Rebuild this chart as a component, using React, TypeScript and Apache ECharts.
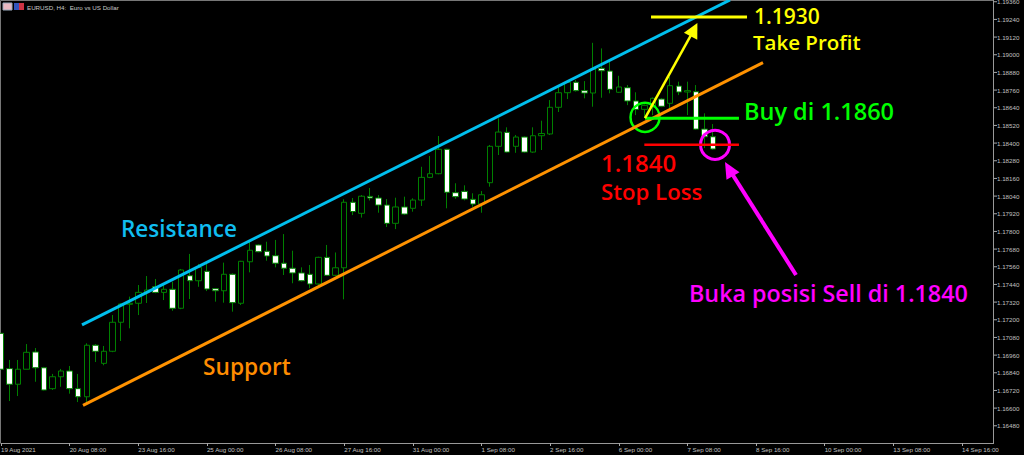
import React, { useEffect, useRef } from "react";
import * as echarts from "echarts";

const xTickLabels = ["19 Aug 2021", "20 Aug 08:00", "23 Aug 16:00", "25 Aug 00:00", "26 Aug 08:00", "27 Aug 16:00", "31 Aug 00:00", "1 Sep 08:00", "2 Sep 16:00", "6 Sep 00:00", "7 Sep 08:00", "8 Sep 16:00", "10 Sep 00:00", "13 Sep 08:00", "14 Sep 16:00"];
const yTicks = [1.1936, 1.1924, 1.1912, 1.19, 1.1888, 1.1876, 1.1864, 1.1852, 1.184, 1.1828, 1.1816, 1.1804, 1.1792, 1.178, 1.1768, 1.1756, 1.1744, 1.1732, 1.172, 1.1708, 1.1696, 1.1684, 1.1672, 1.166, 1.1648];

const opens = [
  1.17108, 1.16868, 1.16762, 1.16864, 1.16981, 1.16874, 1.16732, 1.16813, 1.16852, 1.16732,
  1.16677, 1.17027, 1.16904, 1.16986, 1.17183, 1.17305, 1.17312, 1.17388, 1.17424, 1.17386,
  1.17407, 1.17278, 1.17499, 1.17465, 1.17529, 1.17411, 1.17397, 1.17509, 1.17312, 1.17594,
  1.17708, 1.17665, 1.17635, 1.17584, 1.1755, 1.17518, 1.17509, 1.17443, 1.17624, 1.17502,
  1.17553, 1.17998, 1.17923, 1.18038, 1.18027, 1.17979, 1.17855, 1.17966, 1.17957, 1.18013,
  1.18167, 1.18192, 1.18358, 1.18063, 1.18072, 1.18018, 1.17986, 1.18131, 1.18378, 1.18473,
  1.18378, 1.18441, 1.18339, 1.1845, 1.18462, 1.18643, 1.18742, 1.18813, 1.18756, 1.1874,
  1.18908, 1.18889, 1.18745, 1.18776, 1.18686, 1.18629, 1.18645, 1.18699, 1.1867, 1.18787,
  1.18747, 1.18749, 1.18495, 1.18443,
];
const closes = [
  1.16864, 1.16762, 1.16864, 1.16979, 1.16874, 1.16723, 1.16813, 1.16852, 1.16732, 1.16677,
  1.17027, 1.16986, 1.16986, 1.17183, 1.17307, 1.17312, 1.17386, 1.17402, 1.17386, 1.17407,
  1.17278, 1.17538, 1.17465, 1.17556, 1.17409, 1.17397, 1.17509, 1.17316, 1.17597, 1.17672,
  1.17662, 1.17633, 1.17584, 1.1755, 1.17518, 1.17465, 1.17443, 1.17624, 1.17502, 1.17553,
  1.17998, 1.17935, 1.18039, 1.18027, 1.17979, 1.17855, 1.17966, 1.17918, 1.18013, 1.18167,
  1.18192, 1.18358, 1.18066, 1.18036, 1.1802, 1.17986, 1.18049, 1.18378, 1.18475, 1.18339,
  1.18441, 1.18339, 1.1845, 1.18465, 1.18643, 1.18742, 1.18813, 1.18756, 1.1874, 1.18903,
  1.18891, 1.18765, 1.18781, 1.18686, 1.18629, 1.18656, 1.18704, 1.1865, 1.1879, 1.18747,
  1.18756, 1.18495, 1.18443, 1.1836,
];
const lows = [
  1.16864, 1.16648, 1.16682, 1.16864, 1.16779, 1.1672, 1.16723, 1.16745, 1.16698, 1.16641,
  1.16637, 1.16913, 1.16891, 1.1698, 1.17056, 1.17142, 1.17232, 1.17314, 1.1738, 1.17334,
  1.17261, 1.17272, 1.17341, 1.17424, 1.17395, 1.17323, 1.17316, 1.17255, 1.173, 1.17522,
  1.17658, 1.17601, 1.17556, 1.17504, 1.17448, 1.1746, 1.17414, 1.17436, 1.17497, 1.17497,
  1.17339, 1.17911, 1.17894, 1.1801, 1.17927, 1.1783, 1.17816, 1.17912, 1.17934, 1.17973,
  1.18162, 1.18188, 1.17957, 1.18022, 1.18011, 1.17968, 1.17927, 1.18104, 1.18319, 1.18335,
  1.18334, 1.18334, 1.18334, 1.18353, 1.18455, 1.18611, 1.18699, 1.1875, 1.18704, 1.18647,
  1.18708, 1.18738, 1.1874, 1.18658, 1.1859, 1.1857, 1.1859, 1.18644, 1.18636, 1.18726,
  1.1859, 1.1849, 1.18366, 1.18355,
];
const highs = [
  1.17108, 1.16927, 1.16927, 1.17035, 1.17008, 1.1688, 1.16832, 1.16866, 1.16886, 1.16832,
  1.1704, 1.17035, 1.17022, 1.17232, 1.17312, 1.17357, 1.17436, 1.17497, 1.17477, 1.17436,
  1.17458, 1.17545, 1.17647, 1.17579, 1.17579, 1.17415, 1.17588, 1.17515, 1.176, 1.1773,
  1.17712, 1.1773, 1.17742, 1.17782, 1.17669, 1.17556, 1.17572, 1.17628, 1.17708, 1.17657,
  1.18018, 1.18027, 1.18047, 1.18095, 1.18047, 1.1802, 1.18029, 1.18036, 1.18025, 1.18239,
  1.18312, 1.18448, 1.18362, 1.18127, 1.18113, 1.18059, 1.18074, 1.18387, 1.18568, 1.18507,
  1.18455, 1.18445, 1.18507, 1.18552, 1.18692, 1.18787, 1.18823, 1.18828, 1.18821, 1.19081,
  1.19043, 1.18952, 1.18857, 1.18794, 1.18745, 1.18662, 1.1871, 1.18705, 1.18851, 1.18817,
  1.18817, 1.18794, 1.18602, 1.18529,
];

// Annotations as [bar index, price]
const resistanceLine = [[9.44, 1.17165], [84.97, 1.19372]];
const supportLine = [[9.56, 1.16618], [88.81, 1.18947]];
const takeProfitLine = [[75.76, 1.19256], [86.95, 1.19256]];
const buyLine = [[75.06, 1.18568], [86.01, 1.18568]];
const stopLine = [[74.98, 1.18389], [86.01, 1.18389]];
const yellowArrow = [[75.06, 1.1857], [80.77, 1.19171]];
const magentaArrow = [[92.66, 1.17504], [84.85, 1.18224]];
const buyCircle = [[75.06, 1.18575]];
const sellCircle = [[83.22, 1.18388]];

const BAR_COUNT = 116;
const Y_TICK_BAR = 115.91;
const categories = Array.from({ length: BAR_COUNT }, (_, i) => (i % 8 === 0 ? xTickLabels[i / 8] : String(i)));
const AXIS_TEXT = "#c0c0c0";
const UI_FONT = "'Liberation Sans'";
const NOTE_FONT = "'Open Sans'";

const lineSeries = (data: any[], color: string, width: number, extra: any = {}) => ({
  type: "line",
  xAxisIndex: 1,
  data,
  silent: true,
  showSymbol: false,
  lineStyle: { color, width },
  itemStyle: { color },
  ...extra,
});

const arrowSeries = (pts: number[][], color: string, width: number, rotate: number, size: number[]) =>
  lineSeries(
    [
      { value: pts[0], symbol: "none" },
      { value: pts[1], symbol: "triangle", symbolSize: size, symbolRotate: rotate },
    ],
    color,
    width,
    { showSymbol: true, showAllSymbol: true, clip: false },
  );

const circleSeries = (data: number[][], color: string, width: number) => ({
  type: "scatter",
  xAxisIndex: 1,
  data,
  silent: true,
  symbol: "circle",
  symbolSize: 29,
  itemStyle: { color: "rgba(0,0,0,0)", borderColor: color, borderWidth: width, opacity: 1 },
});

const note = (text: string, x: number, y: number, fill: string, size: number) => ({
  type: "text",
  x,
  y,
  silent: true,
  style: { text, fill, font: `600 ${size}px ${NOTE_FONT}`, textVerticalAlign: "middle" },
});

const frameLine = (x1: number, y1: number, x2: number, y2: number, stroke: string) => ({
  type: "line",
  silent: true,
  shape: { x1, y1, x2, y2 },
  style: { stroke, lineWidth: 1 },
});

export default function App() {
  const ref = useRef<HTMLDivElement>(null);
  useEffect(() => {
    document.body.style.margin = "0";
    document.body.style.background = "#000";
    const chart = echarts.init(ref.current!, null, { renderer: "svg" });
    chart.setOption({
      animation: false,
      backgroundColor: "#000",
      grid: { left: -3.29, top: 1, width: 995.28, height: 442, containLabel: false, outerBoundsMode: "none" },
      xAxis: [
        {
          type: "category",
          data: categories,
          axisLine: { show: false },
          axisTick: { show: true, alignWithLabel: true, interval: 7, length: 3, lineStyle: { color: "#aaa" } },
          axisLabel: { interval: 7, color: AXIS_TEXT, fontSize: 6.2, fontFamily: UI_FONT, align: "left", margin: 3, hideOverlap: false },
          splitLine: { show: false },
        },
        { type: "value", min: -0.5, max: 115.5, show: false },
      ],
      yAxis: {
        type: "value",
        position: "right",
        offset: 2,
        min: 1.16363,
        max: 1.19365,
        scale: true,
        axisLine: { show: false },
        axisTick: { show: false },
        axisLabel: {
          color: AXIS_TEXT,
          fontSize: 6.2,
          fontFamily: UI_FONT,
          margin: 3,
          customValues: yTicks,
          formatter: (v: number) => v.toFixed(5),
        },
        splitLine: { show: false },
      },
      series: [
        {
          type: "candlestick",
          silent: true,
          barWidth: 6,
          data: opens.map((o, i) => [o, closes[i], lows[i], highs[i]]),
          itemStyle: { color: "#000", color0: "#fff", borderColor: "#008000", borderColor0: "#008000", borderWidth: 1 },
        },
        {
          type: "scatter",
          xAxisIndex: 1,
          silent: true,
          clip: false,
          symbol: "rect",
          symbolSize: [3, 1],
          itemStyle: { color: "#aaa", opacity: 1 },
          data: yTicks.map((v) => [Y_TICK_BAR, v]),
        },
        lineSeries(resistanceLine, "#00bfee", 3),
        lineSeries(supportLine, "#ff9200", 3),
        lineSeries(takeProfitLine, "#ffff00", 3),
        lineSeries(buyLine, "#00ff00", 3),
        lineSeries(stopLine, "#ff0000", 2.5),
        arrowSeries(yellowArrow, "#ffff00", 2.5, -27, [15, 15]),
        arrowSeries(magentaArrow, "#ff00ff", 4, 30, [15, 16]),
        circleSeries(buyCircle, "#00ff00", 2.5),
        circleSeries(sellCircle, "#ff00ff", 3),
      ],
      graphic: [
        frameLine(0.5, 0.5, 994, 0.5, "#777"),
        frameLine(0.5, 0.5, 0.5, 443, "#777"),
        frameLine(993.5, 0, 993.5, 443.5, "#999"),
        frameLine(0.5, 443.5, 994, 443.5, "#999"),
        { type: "rect", silent: true, shape: { x: 3, y: 3, width: 9, height: 7 }, style: { fill: "#e8b8c0", stroke: "#9ab", lineWidth: 1 } },
        { type: "rect", silent: true, shape: { x: 14, y: 3, width: 5, height: 7 }, style: { fill: "#3355bb" } },
        { type: "rect", silent: true, shape: { x: 19, y: 3, width: 5, height: 7 }, style: { fill: "#cc3344" } },
        { type: "text", x: 27, y: 7, silent: true, style: { text: "EURUSD, H4:  Euro vs US Dollar", fill: "#c8c8c8", font: `6.2px ${UI_FONT}`, textVerticalAlign: "middle" } },
        note("Resistance", 121, 228, "#10bdf0", 22.5),
        note("Support", 203, 366, "#ff8c00", 22.7),
        note("1.1930", 754, 15.5, "#ffff00", 21),
        note("Take Profit", 753, 41.5, "#ffff00", 20.5),
        note("Buy di 1.1860", 744, 110.5, "#00ff00", 23.5),
        note("1.1840", 601, 162, "#ff0000", 24),
        note("Stop Loss", 601, 191, "#ff0000", 22.2),
        note("Buka posisi Sell di 1.1840", 689, 293, "#ff00ff", 23.3),
      ],
    });
    return () => chart.dispose();
  }, []);
  return <div ref={ref} style={{ width: 1024, height: 455 }} />;
}
